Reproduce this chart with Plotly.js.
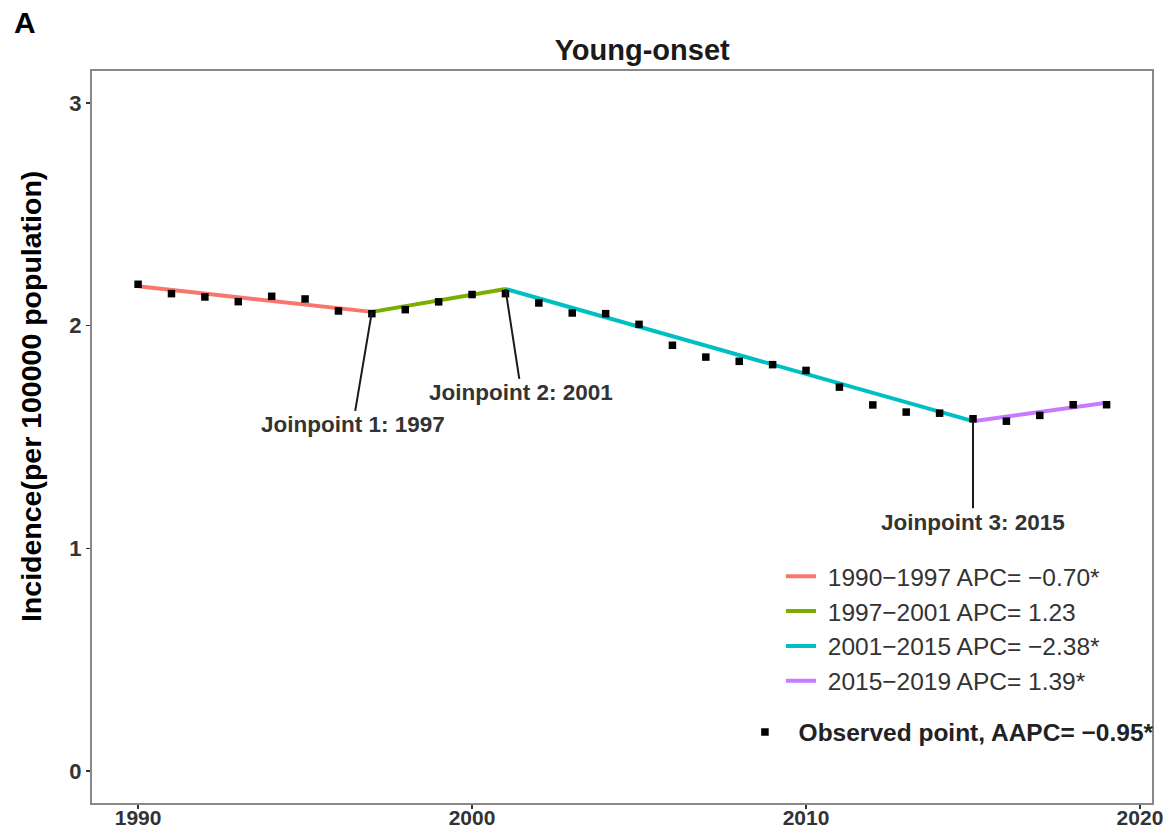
<!DOCTYPE html>
<html>
<head>
<meta charset="utf-8">
<script src="https://cdn.plot.ly/plotly-3.0.1.min.js"></script>
<style>html,body{margin:0;padding:0;background:#fff;}#chart{width:1174px;height:833px;}</style>
</head>
<body>
<div id="chart"></div>
<script>
// Observed incidence (per 100000 population), young-onset
const years = [1990,1991,1992,1993,1994,1995,1996,1997,1998,1999,2000,2001,2002,2003,2004,2005,2006,2007,2008,2009,2010,2011,2012,2013,2014,2015,2016,2017,2018,2019];
const observed = [2.186,2.144,2.129,2.108,2.132,2.120,2.066,2.054,2.072,2.107,2.140,2.144,2.102,2.057,2.054,2.006,1.912,1.859,1.840,1.825,1.799,1.724,1.644,1.612,1.607,1.582,1.571,1.597,1.645,1.645];

// Joinpoint segments (fitted endpoints)
const segNames = ["1990\u22121997 APC= \u22120.70*","1997\u22122001 APC= 1.23","2001\u22122015 APC= \u22122.38*","2015\u22122019 APC= 1.39*"];
const segYears = [[1990,1997],[1997,2001],[2001,2015],[2015,2019]];
const segFit = [[2.177,2.062],[2.062,2.165],[2.165,1.571],[1.571,1.654]];
const segColors = ["#F8766D","#7CAE00","#00BFC4","#C77CFF"];

const joinYears = [1997,2001,2015];
const joinFit = [2.062,2.165,1.571];
const joinLabels = ["Joinpoint 1: 1997","Joinpoint 2: 2001","Joinpoint 3: 2015"];
const obsName = "Observed point, AAPC= \u22120.95*";
const yTitle = "Incidence(per 100000 population)";
const chartTitle = "Young-onset";
const xTicks = [1990, 2000, 2010, 2020];
const yTicks = [0, 1, 2, 3];

const FONT = "Liberation Sans, Arial, sans-serif";

const traces = [];
for (let i = 0; i < segNames.length; i++) {
  traces.push({
    x: segYears[i], y: segFit[i], type: "scatter", mode: "lines",
    name: "\u00a0" + segNames[i],
    line: {color: segColors[i], width: 4},
    legend: "legend", hoverinfo: "skip"
  });
}
traces.push({
  x: years, y: observed, type: "scatter", mode: "markers",
  name: "\u00a0\u00a0<b>" + obsName + "</b>",
  marker: {symbol: "square", size: 7.5, color: "#000"},
  legend: "legend2"
});

const annOffsets = [[-19,113],[16,104],[0,101]];
const annotations = joinYears.map((yr, i) => ({
  x: yr, y: joinFit[i], xref: "x", yref: "y",
  text: "<b>" + joinLabels[i] + "</b>",
  showarrow: true, arrowhead: 0, arrowwidth: 2, arrowcolor: "#1a1a1a",
  ax: annOffsets[i][0], ay: annOffsets[i][1],
  font: {family: FONT, size: 22.5, color: "#333"}
}));
// panel tag
annotations.push({
  xref: "paper", yref: "paper", x: -0.0635, y: 1.0, xanchor: "center", yanchor: "middle",
  yshift: 49, text: "<b>A</b>", showarrow: false,
  font: {family: FONT, size: 30, color: "#000"}
});
// y-axis title
annotations.push({
  xref: "paper", yref: "paper", x: -0.0575, y: 0.5, xanchor: "center", yanchor: "middle",
  yshift: 40, textangle: -90, text: "<b>" + yTitle + "</b>", showarrow: false,
  font: {family: FONT, size: 28.5, color: "#000"}
});

const layout = {
  width: 1174, height: 833,
  margin: {l: 92, r: 22, t: 71, b: 30},
  paper_bgcolor: "#fff", plot_bgcolor: "#fff",
  title: {text: "<b>" + chartTitle + "</b>", x: 0.547, xanchor: "center", y: 0.94, yanchor: "middle",
          font: {family: FONT, size: 29, color: "#1a1a1a"}},
  xaxis: {
    range: [1988.62, 2020.36], tickvals: xTicks,
    showgrid: false, zeroline: false,
    showline: true, mirror: true, linecolor: "#888", linewidth: 2,
    ticks: "outside", ticklen: 4, tickwidth: 1.5, tickcolor: "#333",
    ticklabelstandoff: -9,
    tickfont: {family: FONT, size: 21, color: "#333", weight: "bold"},
    automargin: false
  },
  yaxis: {
    range: [-0.144, 3.144], tickvals: yTicks,
    showgrid: false, zeroline: false,
    showline: true, mirror: true, linecolor: "#888", linewidth: 2,
    ticks: "outside", ticklen: 4, tickwidth: 1.5, tickcolor: "#333",
    tickfont: {family: FONT, size: 22, color: "#333", weight: "bold"},
    automargin: false
  },
  legend: {
    x: 0.650, xanchor: "left", y: 0.3405, yanchor: "top",
    bgcolor: "rgba(0,0,0,0)", borderwidth: 0,
    font: {family: FONT, size: 24.5, color: "#333"},
    itemclick: false, itemdoubleclick: false
  },
  legend2: {
    x: 0.616, xanchor: "left", y: 0.097, yanchor: "middle",
    bgcolor: "rgba(0,0,0,0)", borderwidth: 0,
    font: {family: FONT, size: 24.5, color: "#222"},
    itemclick: false, itemdoubleclick: false
  },
  annotations: annotations,
  showlegend: true
};

Plotly.newPlot("chart", traces, layout, {staticPlot: true, displayModeBar: false});
</script>
</body>
</html>
